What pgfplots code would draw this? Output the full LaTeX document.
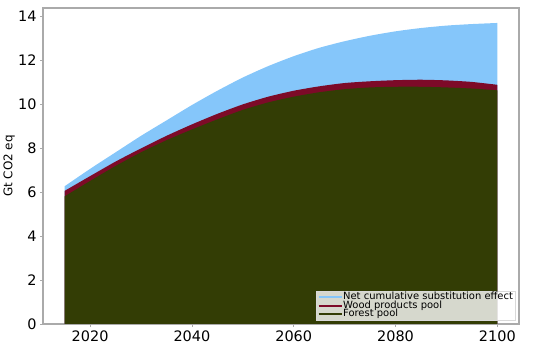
\documentclass[border=0pt]{standalone}
\usepackage{pgfplots}
\pgfplotsset{compat=1.18}
\usepackage{fontspec}
\setmainfont{DejaVu Sans}
\definecolor{subst}{HTML}{85C6FA}
\definecolor{wood}{HTML}{7D0A28}
\definecolor{forest}{HTML}{333D05}
\definecolor{spine}{HTML}{AAAAAA}
\begin{document}
\begin{tikzpicture}
\begin{axis}[
  name=ax,
  at={(0,0)}, anchor=south west,
  scale only axis, width=476bp, height=316bp,
  xmin=2010.75, xmax=2104.25, ymin=0, ymax=14.36,
  xtick={2020,2040,2060,2080,2100},
  ytick={0,2,4,6,8,10,12,14},
  /pgf/number format/assume math mode=true,
  /pgf/number format/1000 sep={},
  tick label style={font=\fontsize{14.5}{14.5}\selectfont},
  axis line style={spine, line width=1.2pt},
  tick style={spine, line width=0.8pt},
  tick align=outside, major tick length=3bp,
  xtick pos=bottom, ytick pos=left,
  ylabel={Gt CO2 eq},
  ylabel style={font=\fontsize{12}{12}\selectfont, at={(axis description cs:-0.071,0.5)}, anchor=center},
  legend style={at={(0.992,0.012)}, anchor=south east, font=\fontsize{10}{8}\selectfont,
    fill=white, fill opacity=0.8, text opacity=1, draw=white!85!black, inner sep=1.5pt, row sep=0pt,
    nodes={inner sep=0.5pt, text height=6.2bp, text depth=1.3bp}},
  legend cell align=left,
  legend image code/.code={\draw[line width=2pt] (0bp,0bp) -- (23bp,0bp);},
]
\addplot[draw=none, fill=subst, forget plot, smooth, tension=0.4] coordinates {
(2015,6.26) (2020,7.05) (2025,7.8) (2030,8.55) (2035,9.25) (2040,9.95) (2045,10.6) (2050,11.2) (2055,11.72) (2060,12.17) (2065,12.55) (2070,12.85) (2075,13.1) (2080,13.3) (2085,13.45) (2090,13.56) (2095,13.63) (2100,13.68)
} \closedcycle;
\addplot[draw=none, fill=wood, forget plot, smooth, tension=0.4] coordinates {
(2015,6.05) (2020,6.72) (2025,7.38) (2030,7.98) (2035,8.55) (2040,9.07) (2045,9.55) (2050,9.98) (2055,10.33) (2060,10.6) (2065,10.8) (2070,10.95) (2075,11.03) (2080,11.08) (2085,11.1) (2090,11.07) (2095,11.0) (2100,10.87)
} \closedcycle;
\addplot[draw=none, fill=forest, forget plot, smooth, tension=0.4] coordinates {
(2015,5.80) (2020,6.5) (2025,7.18) (2030,7.8) (2035,8.35) (2040,8.84) (2045,9.3) (2050,9.73) (2055,10.07) (2060,10.33) (2065,10.53) (2070,10.67) (2075,10.75) (2080,10.78) (2085,10.78) (2090,10.75) (2095,10.7) (2100,10.62)
} \closedcycle;
\addlegendimage{subst}
\addlegendentry{Net cumulative substitution effect}
\addlegendimage{wood}
\addlegendentry{Wood products pool}
\addlegendimage{forest}
\addlegendentry{Forest pool}
\end{axis}
\pgfresetboundingbox
\path ([shift={(-43bp,-33bp)}]ax.south west) rectangle ([shift={(16bp,8bp)}]ax.north east);
\end{tikzpicture}
\end{document}
